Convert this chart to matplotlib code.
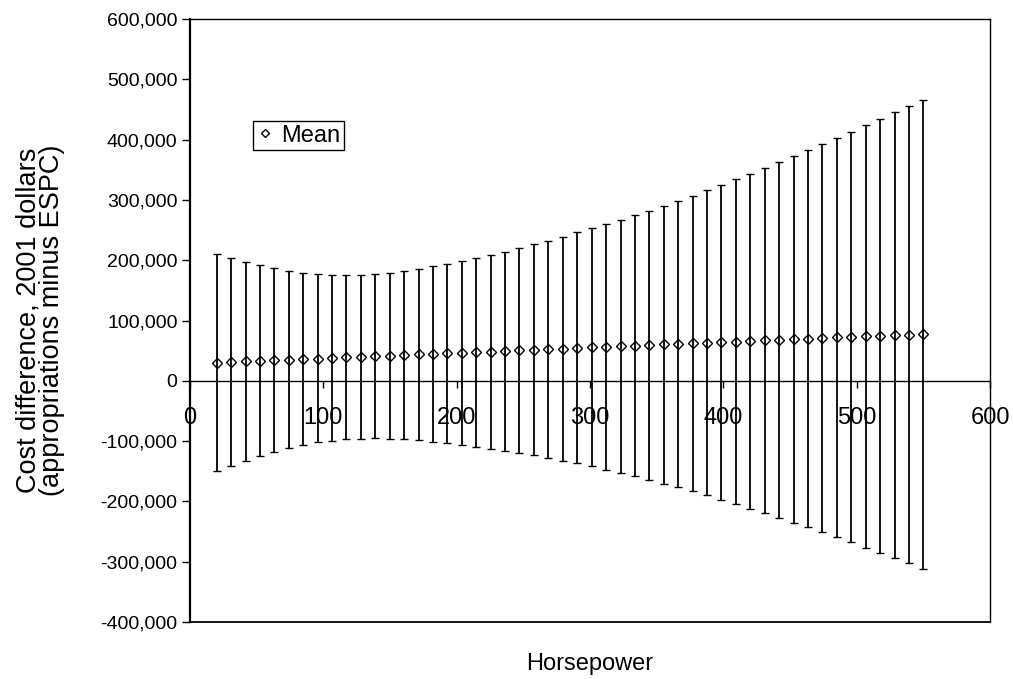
import matplotlib
matplotlib.use("Agg")
import matplotlib.pyplot as plt
from matplotlib.lines import Line2D
from matplotlib.ticker import FuncFormatter, MultipleLocator

plt.rcParams['font.family'] = ['Liberation Sans', 'DejaVu Sans']

# Engine horsepower for each estimate
horsepower = [20.0, 30.8, 41.6, 52.4, 63.3, 74.1, 84.9, 95.7, 106.5, 117.3,
              128.2, 139.0, 149.8, 160.6, 171.4, 182.2, 193.1, 203.9, 214.7, 225.5,
              236.3, 247.1, 258.0, 268.8, 279.6, 290.4, 301.2, 312.0, 322.9, 333.7,
              344.5, 355.3, 366.1, 376.9, 387.8, 398.6, 409.4, 420.2, 431.0, 441.8,
              452.7, 463.5, 474.3, 485.1, 495.9, 506.7, 517.6, 528.4, 539.2, 550.0]

# Mean cost difference (dollars)
mean_cost = [30200, 31200, 32100, 33100, 34100, 35000, 36000, 37000, 37900, 38900,
             39900, 40900, 41800, 42800, 43800, 44700, 45700, 46700, 47600, 48600,
             49600, 50600, 51500, 52500, 53500, 54400, 55400, 56400, 57300, 58300,
             59300, 60300, 61200, 62200, 63200, 64100, 65100, 66100, 67000, 68000,
             69000, 70000, 70900, 71900, 72900, 73800, 74800, 75800, 76700, 77700]

# Upper and lower interval bounds (dollars)
upper_bound = [209800, 204300, 197600, 192100, 186600, 182100, 178300, 176600, 175500, 175000,
               175500, 177200, 179400, 182100, 185300, 189900, 193700, 198700, 203200, 208600,
               214000, 220000, 226400, 232500, 238500, 246300, 252900, 260000, 266700, 274500,
               282200, 289900, 298200, 306500, 315900, 324700, 334200, 343000, 352900, 362900,
               372300, 382300, 392700, 402700, 412600, 424200, 434200, 445300, 455700, 465700]

lower_bound = [-150100, -141200, -132400, -125200, -117500, -111900, -107000, -102000, -99200, -97000,
               -96500, -95400, -96000, -96800, -98200, -100800, -103200, -105800, -109100, -112400,
               -116400, -119700, -123000, -128000, -133000, -136800, -141800, -147300, -152500, -158400,
               -164500, -171100, -176600, -183300, -189900, -197000, -204300, -212000, -219700, -227500,
               -235200, -243000, -251200, -259500, -267800, -276600, -284900, -293900, -302700, -312100]

FS = 17

fig = plt.figure(figsize=(10.13, 6.79), dpi=100)
ax = fig.add_axes([0.1876, 0.0839, 0.7897, 0.8881])

err_low = [m - lo for m, lo in zip(mean_cost, lower_bound)]
err_high = [hi - m for m, hi in zip(mean_cost, upper_bound)]

ax.errorbar(horsepower, mean_cost, yerr=[err_low, err_high], fmt='D',
            mfc='none', mec='black', ms=5, mew=1.0,
            ecolor='black', elinewidth=1.3, capsize=3.2, capthick=1.3, zorder=3)

ax.set_xlim(0, 600)
ax.set_ylim(-400000, 600000)
ax.xaxis.set_major_locator(MultipleLocator(100))
ax.yaxis.set_major_locator(MultipleLocator(100000))
ax.yaxis.set_major_formatter(FuncFormatter(lambda v, p: f"{int(round(v)):,}"))

# x axis runs along zero; frame drawn around the plot area
ax.spines['bottom'].set_position(('data', 0))
ax.spines['bottom'].set_linewidth(1.0)
ax.spines['top'].set_linewidth(1.0)
ax.spines['right'].set_linewidth(1.0)
ax.spines['left'].set_linewidth(1.6)
ax.plot([0, 1], [0, 0], transform=ax.transAxes, color='black', lw=1.3,
        clip_on=False, zorder=5)

ax.tick_params(axis='x', direction='out', length=5, width=1, pad=14, labelsize=FS)
ax.tick_params(axis='y', direction='out', length=6, width=1, pad=3, labelsize=14)

ax.set_xlabel('Horsepower', fontsize=FS)
ax.xaxis.set_label_coords(0.5, -0.052)
ax.set_ylabel('Cost difference, 2001 dollars\n(appropriations minus ESPC)', fontsize=19.5,
              linespacing=0.88)
ax.yaxis.set_label_coords(-0.156, 0.5)

handle = Line2D([], [], marker='D', ls='none', mfc='none', mec='black', ms=4, mew=1.0)
leg = ax.legend(handles=[handle], labels=['Mean'], loc='upper left',
                bbox_to_anchor=(0.0784, 0.8308), frameon=True, fancybox=False,
                edgecolor='black', framealpha=1, borderpad=0.15, handlelength=0.72,
                handletextpad=0.35, borderaxespad=0, fontsize=FS)
leg.get_frame().set_linewidth(1.0)

fig.savefig('out.png', dpi=100)
